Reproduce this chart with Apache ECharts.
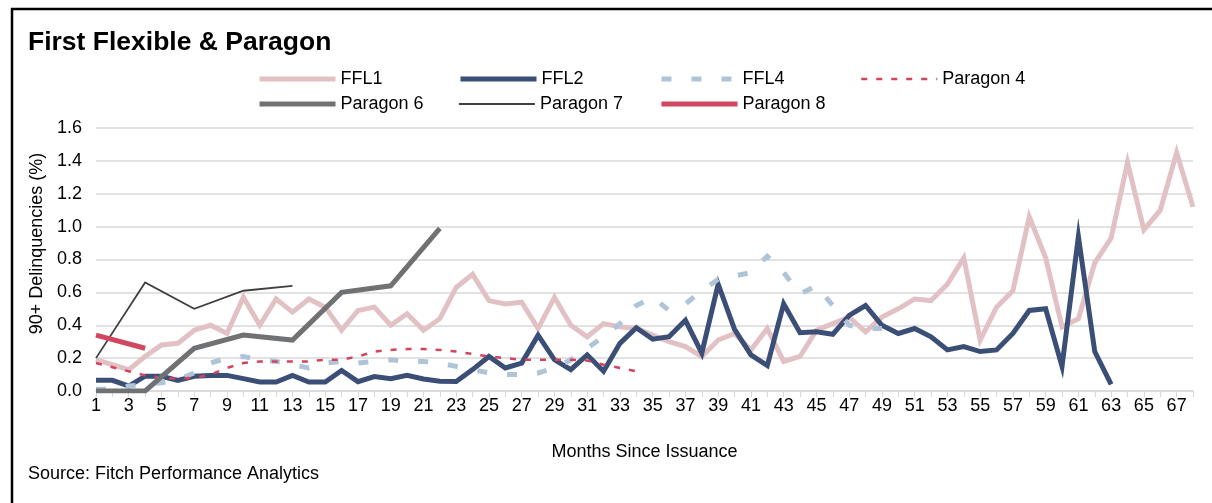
<!DOCTYPE html>
<html>
<head>
<meta charset="utf-8">
<script src="https://cdn.jsdelivr.net/npm/echarts@6/dist/echarts.min.js"></script>
<style>
  html, body { margin: 0; padding: 0; background: #fff; }
  #chart { width: 1212px; height: 503px; }
</style>
</head>
<body>
<div id="chart"></div>
<script>
// months since issuance 1..68
var months = Array.from({ length: 68 }, function (_, i) { return String(i + 1); });

var ffl1 = [0.19, 0.16, 0.13, 0.21, 0.28, 0.29, 0.37, 0.40, 0.35, 0.57,
  0.40, 0.56, 0.48, 0.56, 0.51, 0.37, 0.49, 0.51, 0.40, 0.47,
  0.37, 0.44, 0.63, 0.71, 0.55, 0.53, 0.54, 0.38, 0.57, 0.40,
  0.33, 0.41, 0.39, 0.38, 0.34, 0.30, 0.27, 0.21, 0.31, 0.35,
  0.25, 0.38, 0.18, 0.21, 0.37, 0.41, 0.45, 0.36, 0.45, 0.50,
  0.56, 0.55, 0.65, 0.81, 0.31, 0.51, 0.61, 1.06, 0.81, 0.39,
  0.44, 0.78, 0.93, 1.39, 0.98, 1.10, 1.45, 1.12];

var ffl2 = [0.065, 0.065, 0.03, 0.09, 0.09, 0.065, 0.09, 0.095, 0.095, 0.075,
  0.055, 0.055, 0.095, 0.055, 0.055, 0.125, 0.057, 0.088, 0.075, 0.095,
  0.073, 0.06, 0.058, 0.13, 0.21, 0.14, 0.17, 0.34, 0.19, 0.13,
  0.22, 0.12, 0.29, 0.385, 0.315, 0.33, 0.43, 0.23, 0.65, 0.375,
  0.22, 0.155, 0.53, 0.355, 0.36, 0.345, 0.46, 0.52, 0.40, 0.35,
  0.38, 0.33, 0.25, 0.27, 0.24, 0.25, 0.35, 0.49, 0.50, 0.15,
  0.94, 0.24, 0.04];

var ffl4 = [0.01, 0.01, 0.03, 0.04, 0.05, 0.07, 0.11, 0.17, 0.20, 0.21,
  0.19, 0.18, 0.16, 0.14, 0.17, 0.18, 0.17, 0.18, 0.19, 0.18,
  0.18, 0.17, 0.15, 0.13, 0.11, 0.10, 0.10, 0.11, 0.14, 0.19,
  0.26, 0.33, 0.41, 0.52, 0.57, 0.49, 0.53, 0.61, 0.68, 0.70,
  0.72, 0.82, 0.72, 0.59, 0.64, 0.52, 0.40, 0.38, 0.38];

var paragon4 = [0.17, 0.145, 0.12, 0.095, 0.08, 0.075, 0.08, 0.10, 0.14, 0.17,
  0.18, 0.18, 0.18, 0.18, 0.19, 0.19, 0.21, 0.24, 0.25, 0.255,
  0.255, 0.25, 0.24, 0.225, 0.21, 0.20, 0.19, 0.19, 0.19, 0.19,
  0.185, 0.16, 0.14, 0.12];

// Paragon deals report quarterly
var paragon6 = [0.0, null, null, 0.0, null, null, 0.26, null, null, 0.34, null, null,
  0.31, null, null, 0.60, null, null, 0.64, null, null, 0.99];
var paragon7 = [0.20, null, null, 0.66, null, null, 0.50, null, null, 0.61, null, null, 0.64];
var paragon8 = [0.34, null, null, 0.26];

var font = 'Liberation Sans, Arial, sans-serif';

var chart = echarts.init(document.getElementById('chart'));

function line(name, data, color, width, dash) {
  return {
    name: name,
    type: 'line',
    data: data,
    symbol: 'none',
    connectNulls: true,
    lineStyle: { color: color, width: width, type: dash || 'solid', cap: 'butt', join: 'miter' },
    itemStyle: { color: color },
    emphasis: { disabled: true },
    animation: false
  };
}

// one legend per entry so the columns line up like the original
function legendItem(name, left, top) {
  return {
    data: [name],
    left: left, top: top,
    itemWidth: 76, itemHeight: 18,
    textStyle: { fontFamily: font, fontSize: 18, color: '#000' },
    itemStyle: { opacity: 0 },
    lineStyle: { width: 'inherit' },
    selectedMode: false
  };
}

var option = {
  animation: false,
  title: {
    text: 'First Flexible & Paragon',
    left: 23,
    top: 24,
    textStyle: { fontFamily: font, fontSize: 26.5, fontWeight: 'bold', color: '#000' }
  },
  legend: [
    legendItem('FFL1', 252, 65),
    legendItem('FFL2', 453, 65),
    legendItem('FFL4', 654, 65),
    legendItem('Paragon 4', 855, 65),
    legendItem('Paragon 6', 252, 90),
    legendItem('Paragon 7', 453, 90),
    legendItem('Paragon 8', 654, 90)
  ],
  grid: { left: 96, right: 19, top: 128, bottom: 112, containLabel: false },
  xAxis: {
    type: 'category',
    data: months,
    boundaryGap: false,
    name: 'Months Since Issuance',
    nameLocation: 'middle',
    nameGap: 52,
    nameTextStyle: { fontFamily: font, fontSize: 18, color: '#000' },
    axisLine: { lineStyle: { color: '#d9d9d9', width: 1.5 } },
    axisTick: { show: true, interval: 0, length: 6, lineStyle: { color: '#d9d9d9' } },
    axisLabel: { interval: 1, margin: 6, fontFamily: font, fontSize: 18, color: '#000' },
    splitLine: { show: false }
  },
  yAxis: {
    type: 'value',
    min: 0, max: 1.6, interval: 0.2,
    name: '90+ Delinquencies (%)',
    nameLocation: 'middle',
    nameGap: 50,
    nameTextStyle: { fontFamily: font, fontSize: 18, color: '#000', padding: [0, 0, 0, 32] },
    axisLine: { show: false },
    axisTick: { show: false },
    axisLabel: {
      margin: 14, fontFamily: font, fontSize: 18, color: '#000',
      formatter: function (v) { return v.toFixed(1); }
    },
    splitLine: { lineStyle: { color: '#d9d9d9', width: 1.5 } }
  },
  graphic: [
    { type: 'line', shape: { x1: 11, y1: 9, x2: 1212, y2: 9 }, style: { stroke: '#000', lineWidth: 2.5 } },
    { type: 'line', shape: { x1: 12, y1: 8, x2: 12, y2: 503 }, style: { stroke: '#000', lineWidth: 2.5 } },
    {
      type: 'text', left: 28, top: 465,
      style: { text: 'Source: Fitch Performance Analytics', font: '18px ' + font, fill: '#000' }
    }
  ],
  series: [
    line('FFL1', ffl1, '#e2c1c5', 5),
    line('FFL2', ffl2, '#3b4f76', 5),
    line('FFL4', ffl4, '#b0c4d8', 5, [10, 20]),
    line('Paragon 4', paragon4, '#d2445e', 2.5, [6, 9]),
    line('Paragon 6', paragon6, '#707173', 5),
    line('Paragon 7', paragon7, '#404040', 1.8),
    line('Paragon 8', paragon8, '#d2465f', 5)
  ]
};

chart.setOption(option);
</script>
</body>
</html>
